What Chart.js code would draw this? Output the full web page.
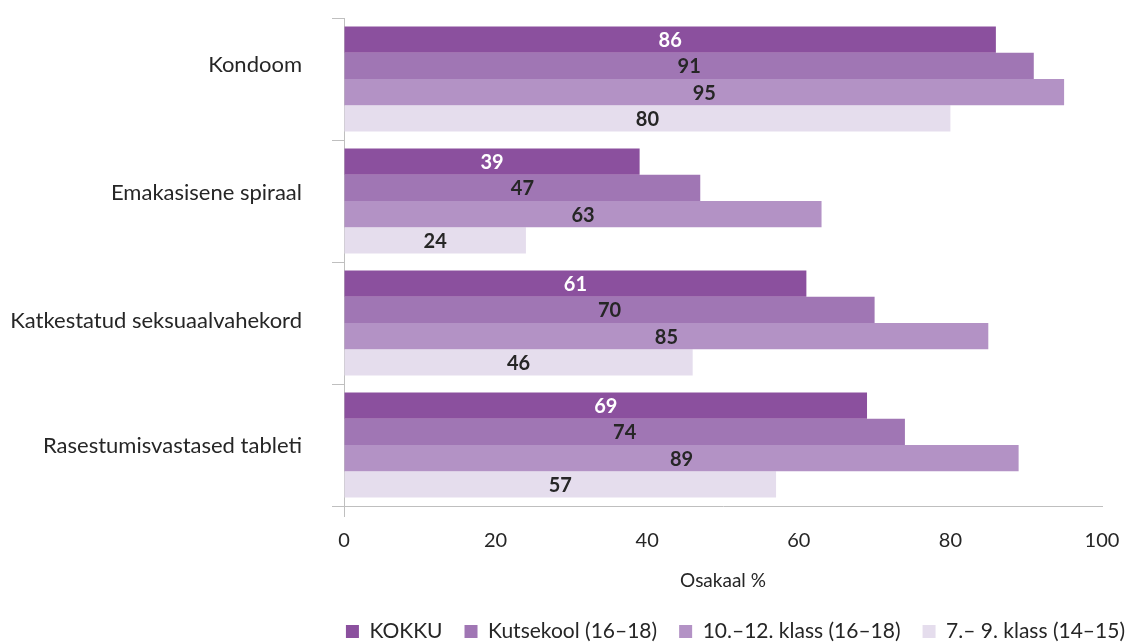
<!DOCTYPE html>
<html>
<head>
<meta charset="utf-8">
<script src="https://cdn.jsdelivr.net/npm/chart.js@4.4.1/dist/chart.umd.min.js"></script>
<style>
    html, body { margin: 0; padding: 0; background: #fff; }
    #wrap { width: 1133px; height: 642px; }
</style>
</head>
<body>
<div id="wrap"><canvas id="chart" width="1133" height="642"></canvas></div>
<script>
// categories and series
const categories = ["Kondoom", "Emakasisene spiraal", "Katkestatud seksuaalvahekord", "Rasestumisvastased tableti"];
const seriesNames = ["KOKKU", "Kutsekool (16–18)", "10.–12. klass (16–18)", "7.– 9. klass (14–15)"];
const kokku = [86, 39, 61, 69];
const kutsekool = [91, 47, 70, 74];
const klass10to12 = [95, 63, 85, 89];
const klass7to9 = [80, 24, 46, 57];
const xTicks = [0, 20, 40, 60, 80, 100];

const seriesValues = [kokku, kutsekool, klass10to12, klass7to9];
const seriesColors = ["#8B509E", "#A076B4", "#B392C5", "#E5DDED"];
const labelColors = ["#FFFFFF", "#262626", "#262626", "#262626"];
const axisGray = "#BFBFBF";
const textColor = "#262626";
const fontFamily = "Lato, 'Open Sans', sans-serif";
// the category labels in the original sit a little off their band centres
const categoryLabelShift = [-14, -8, -2, 1];

// write the value in the middle of each bar
const barValueLabels = {
    id: "barValueLabels",
    afterDatasetsDraw(chart) {
        const ctx = chart.ctx;
        ctx.save();
        ctx.font = "bold 20px " + fontFamily;
        ctx.textAlign = "center";
        ctx.textBaseline = "middle";
        chart.data.datasets.forEach((ds, i) => {
            const meta = chart.getDatasetMeta(i);
            meta.data.forEach((bar, j) => {
                ctx.fillStyle = labelColors[i];
                ctx.fillText(String(ds.data[j]), (bar.x + bar.base) / 2, bar.y + 1);
            });
        });
        ctx.restore();
    }
};

// category names, placed from the y scale
const categoryLabels = {
    id: "categoryLabels",
    afterDraw(chart) {
        const ctx = chart.ctx;
        const yScale = chart.scales.y;
        ctx.save();
        ctx.font = "22px " + fontFamily;
        ctx.fillStyle = textColor;
        ctx.textAlign = "right";
        ctx.textBaseline = "middle";
        chart.data.labels.forEach((label, i) => {
            const y = yScale.getPixelForTick(i) + categoryLabelShift[i];
            ctx.fillText(label, chart.chartArea.left - 42, y);
        });
        ctx.restore();
    }
};

const datasets = seriesNames.map((name, i) => ({
    label: name,
    data: seriesValues[i],
    backgroundColor: seriesColors[i],
    borderWidth: 0,
    barPercentage: 1,
    categoryPercentage: 0.86
}));

new Chart(document.getElementById("chart").getContext("2d"), {
    type: "bar",
    data: { labels: categories, datasets: datasets },
    plugins: [barValueLabels, categoryLabels],
    options: {
        indexAxis: "y",
        responsive: false,
        animation: false,
        layout: { padding: { top: 18, bottom: -10, left: 0, right: -14 } },
        plugins: {
            tooltip: { enabled: false },
            legend: {
                position: "bottom",
                align: "end",
                labels: {
                    boxWidth: 13,
                    boxHeight: 13,
                    padding: 22,
                    color: textColor,
                    font: { family: fontFamily, size: 21 }
                }
            }
        },
        scales: {
            x: {
                min: 0,
                max: 100,
                afterBuildTicks(scale) {
                    scale.ticks = xTicks.map(v => ({ value: v }));
                },
                afterFit(scale) { scale.height = 93; },
                border: { display: true, color: axisGray, width: 1 },
                grid: {
                    drawOnChartArea: false,
                    drawTicks: true,
                    tickLength: 11,
                    color: c => (c.index === 0 ? axisGray : "rgba(0,0,0,0)")
                },
                ticks: {
                    padding: 12,
                    color: textColor,
                    font: { family: fontFamily, size: 20 }
                },
                title: {
                    display: true,
                    text: "Osakaal %",
                    color: textColor,
                    padding: { top: 8, bottom: 7 },
                    font: { family: fontFamily, size: 19 }
                }
            },
            y: {
                afterFit(scale) {
                    scale.width = 344;
                    scale.paddingTop = 0;
                    scale.paddingBottom = 0;
                },
                border: { display: true, color: axisGray, width: 1 },
                grid: {
                    offset: true,
                    drawOnChartArea: false,
                    drawTicks: true,
                    tickLength: 12,
                    color: axisGray
                },
                ticks: { display: false }
            },
            pad: {
                type: "linear",
                position: "right",
                display: true,
                afterFit(scale) {
                    scale.width = 45;
                    scale.paddingTop = 0;
                    scale.paddingBottom = 0;
                },
                border: { display: false },
                grid: { display: false },
                ticks: { display: false }
            }
        }
    }
});
</script>
</body>
</html>
